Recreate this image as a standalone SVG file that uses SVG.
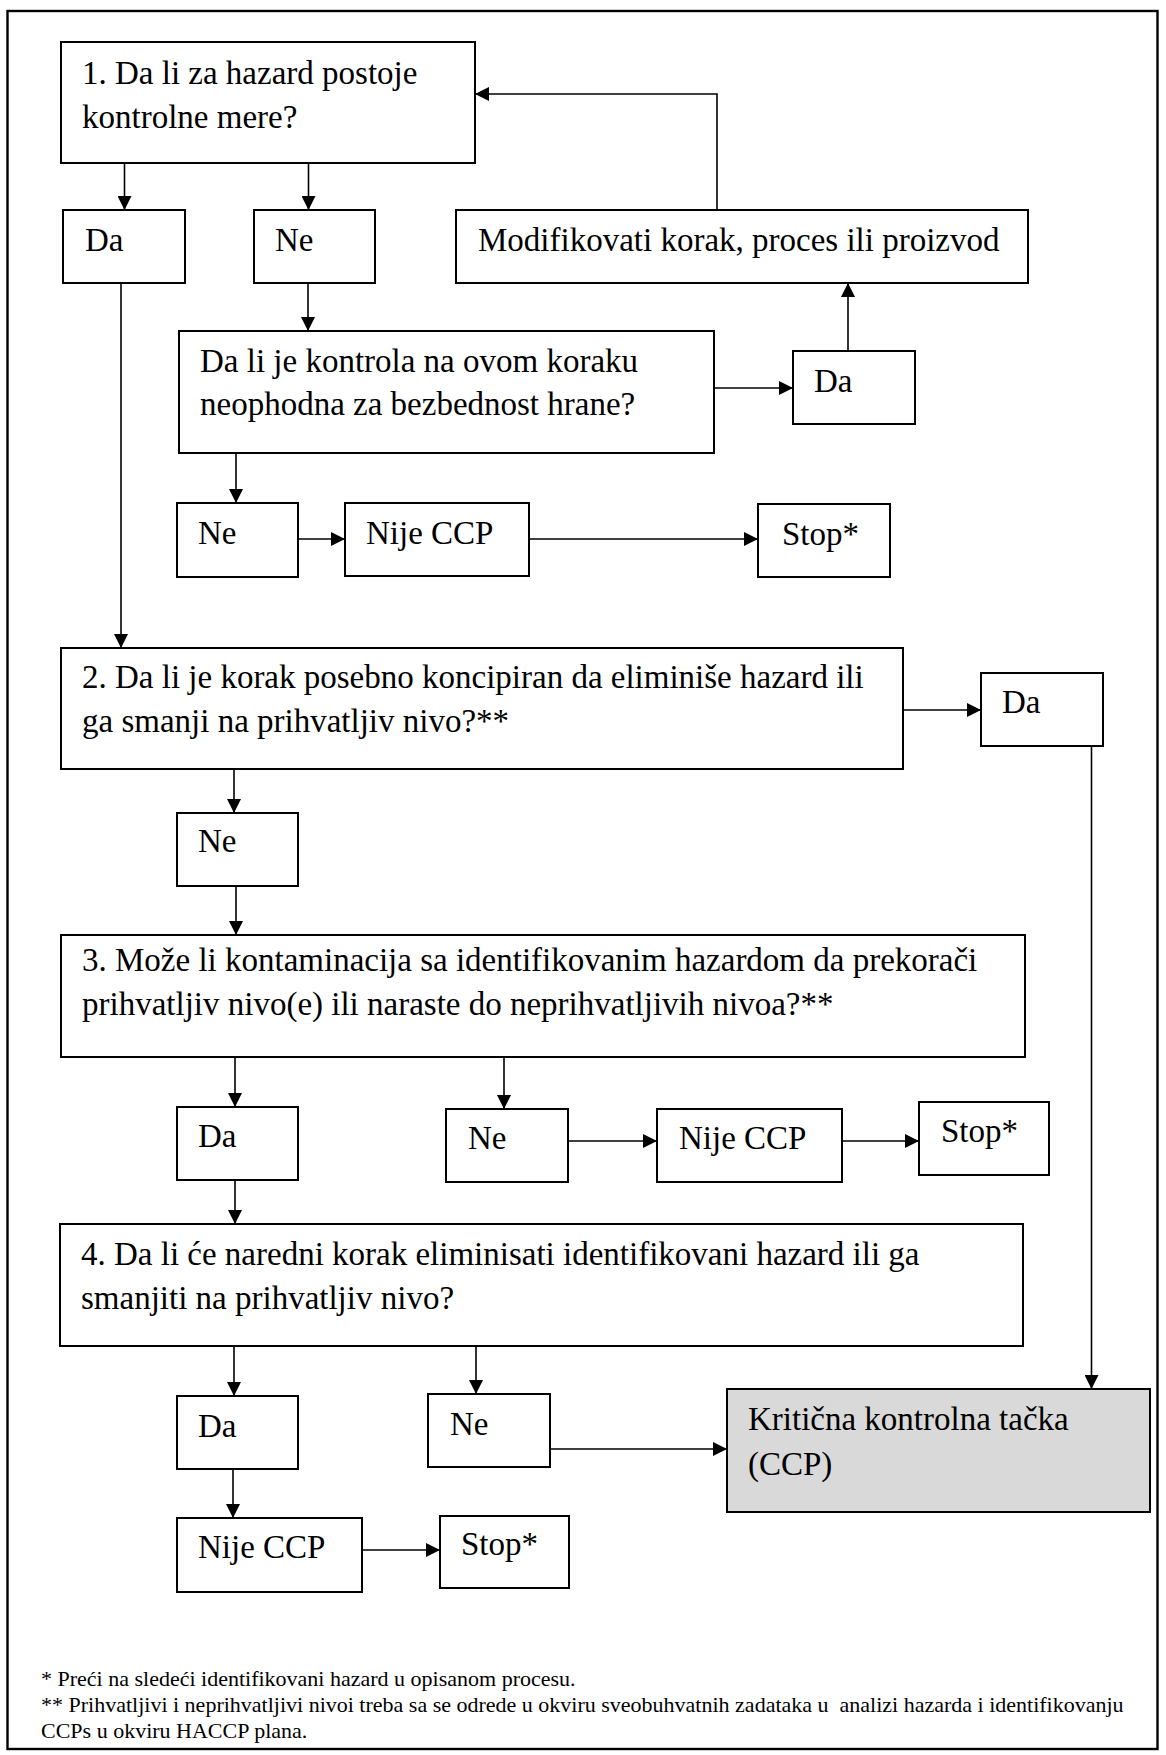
<svg xmlns="http://www.w3.org/2000/svg" width="1166" height="1755" viewBox="0 0 1166 1755">
<defs>
<marker id="ah" markerUnits="userSpaceOnUse" markerWidth="15" markerHeight="14" refX="14" refY="7" orient="auto">
<path d="M0,0 L14,7 L0,14 z" fill="#000"/>
</marker>
<style>
.b{fill:#fff;stroke:#000;stroke-width:2}
.g{fill:#d9d9d9;stroke:#000;stroke-width:2}
.t{font-family:"Liberation Serif","Times New Roman",serif;font-size:33px;fill:#000}
.f{font-family:"Liberation Serif","Times New Roman",serif;font-size:22px;fill:#000}
.c{fill:none;stroke:#000;stroke-width:1.6}
.a{marker-end:url(#ah)}
</style>
</defs>
<rect x="0" y="0" width="1166" height="1755" fill="#fff"/>
<rect id="frame" x="7.5" y="11" width="1150" height="1738" fill="none" stroke="#000" stroke-width="2.4"/>

<g id="connectors">
<path class="c a" d="M124.5,163 V210"/>
<path class="c a" d="M308.5,163 V210"/>
<path class="c a" d="M308,283 V331"/>
<path class="c a" d="M121,283 V648"/>
<path class="c a" d="M714,388 H793"/>
<path class="c a" d="M848,351 V283"/>
<path class="c a" d="M717,210 V94 H475"/>
<path class="c a" d="M236,453 V503"/>
<path class="c a" d="M298,539 H345"/>
<path class="c a" d="M529,539 H758"/>
<path class="c a" d="M903,710 H981"/>
<path class="c a" d="M234,769 V813"/>
<path class="c a" d="M1091.5,746 V1389"/>
<path class="c a" d="M236,886 V935"/>
<path class="c a" d="M235,1057 V1107"/>
<path class="c a" d="M504,1057 V1109"/>
<path class="c a" d="M568,1141 H657"/>
<path class="c a" d="M842,1141 H919"/>
<path class="c a" d="M235,1180 V1224"/>
<path class="c a" d="M234,1346 V1396"/>
<path class="c a" d="M476,1346 V1394"/>
<path class="c a" d="M550,1449 H727"/>
<path class="c a" d="M233,1469 V1518"/>
<path class="c a" d="M362,1550 H440"/>
</g>

<g id="q1"><rect class="b" x="61" y="42" width="414" height="121"/>
<text class="t" x="82" y="84">1. Da li za hazard postoje</text>
<text class="t" x="82" y="128">kontrolne mere?</text></g>

<g id="q1-da"><rect class="b" x="63" y="210" width="122" height="73"/><text class="t" x="85" y="251">Da</text></g>
<g id="q1-ne"><rect class="b" x="254" y="210" width="121" height="73"/><text class="t" x="275" y="251">Ne</text></g>
<g id="modify"><rect class="b" x="456" y="210" width="572" height="73"/><text class="t" x="478" y="251">Modifikovati korak, proces ili proizvod</text></g>

<g id="q1b"><rect class="b" x="179" y="331" width="535" height="122"/>
<text class="t" x="200" y="372">Da li je kontrola na ovom koraku</text>
<text class="t" x="200" y="415">neophodna za bezbednost hrane?</text></g>
<g id="q1b-da"><rect class="b" x="793" y="351" width="122" height="73"/><text class="t" x="814" y="392">Da</text></g>
<g id="q1b-ne"><rect class="b" x="177" y="503" width="121" height="74"/><text class="t" x="198" y="544">Ne</text></g>
<g id="nije1"><rect class="b" x="345" y="503" width="184" height="73"/><text class="t" x="366" y="544">Nije CCP</text></g>
<g id="stop1"><rect class="b" x="758" y="504" width="132" height="73"/><text class="t" x="782" y="545">Stop*</text></g>

<g id="q2"><rect class="b" x="61" y="648" width="842" height="121"/>
<text class="t" x="82" y="688">2. Da li je korak posebno koncipiran da eliminiše hazard ili</text>
<text class="t" x="82" y="732">ga smanji na prihvatljiv nivo?**</text></g>
<g id="q2-da"><rect class="b" x="981" y="673" width="122" height="73"/><text class="t" x="1002" y="713">Da</text></g>
<g id="q2-ne"><rect class="b" x="177" y="813" width="121" height="73"/><text class="t" x="198" y="852">Ne</text></g>

<g id="q3"><rect class="b" x="61" y="935" width="964" height="122"/>
<text class="t" x="82" y="971">3. Može li kontaminacija sa identifikovanim hazardom da prekorači</text>
<text class="t" x="82" y="1015">prihvatljiv nivo(e) ili naraste do neprihvatljivih nivoa?**</text></g>
<g id="q3-da"><rect class="b" x="177" y="1107" width="121" height="73"/><text class="t" x="198" y="1147">Da</text></g>
<g id="q3-ne"><rect class="b" x="446" y="1109" width="122" height="73"/><text class="t" x="468" y="1149">Ne</text></g>
<g id="nije2"><rect class="b" x="657" y="1109" width="185" height="73"/><text class="t" x="679" y="1149">Nije CCP</text></g>
<g id="stop2"><rect class="b" x="919" y="1102" width="130" height="73"/><text class="t" x="941" y="1142">Stop*</text></g>

<g id="q4"><rect class="b" x="60" y="1224" width="963" height="122"/>
<text class="t" x="81" y="1265">4. Da li će naredni korak eliminisati identifikovani hazard ili ga</text>
<text class="t" x="81" y="1309">smanjiti na prihvatljiv nivo?</text></g>
<g id="q4-da"><rect class="b" x="177" y="1396" width="121" height="73"/><text class="t" x="198" y="1437">Da</text></g>
<g id="q4-ne"><rect class="b" x="428" y="1394" width="122" height="73"/><text class="t" x="450" y="1435">Ne</text></g>
<g id="ccp"><rect class="g" x="727" y="1389" width="423" height="123"/>
<text class="t" x="748" y="1430">Kritična kontrolna tačka</text>
<text class="t" x="748" y="1475">(CCP)</text></g>
<g id="nije3"><rect class="b" x="177" y="1518" width="185" height="74"/><text class="t" x="198" y="1558">Nije CCP</text></g>
<g id="stop3"><rect class="b" x="440" y="1516" width="129" height="72"/><text class="t" x="461" y="1555">Stop*</text></g>

<g id="notes">
<text class="f" x="41" y="1686">* Preći na sledeći identifikovani hazard u opisanom procesu.</text>
<text class="f" x="41" y="1712" xml:space="preserve">** Prihvatljivi i neprihvatljivi nivoi treba sa se odrede u okviru sveobuhvatnih zadataka u  analizi hazarda i identifikovanju</text>
<text class="f" x="41" y="1738">CCPs u okviru HACCP plana.</text>
</g>
</svg>
